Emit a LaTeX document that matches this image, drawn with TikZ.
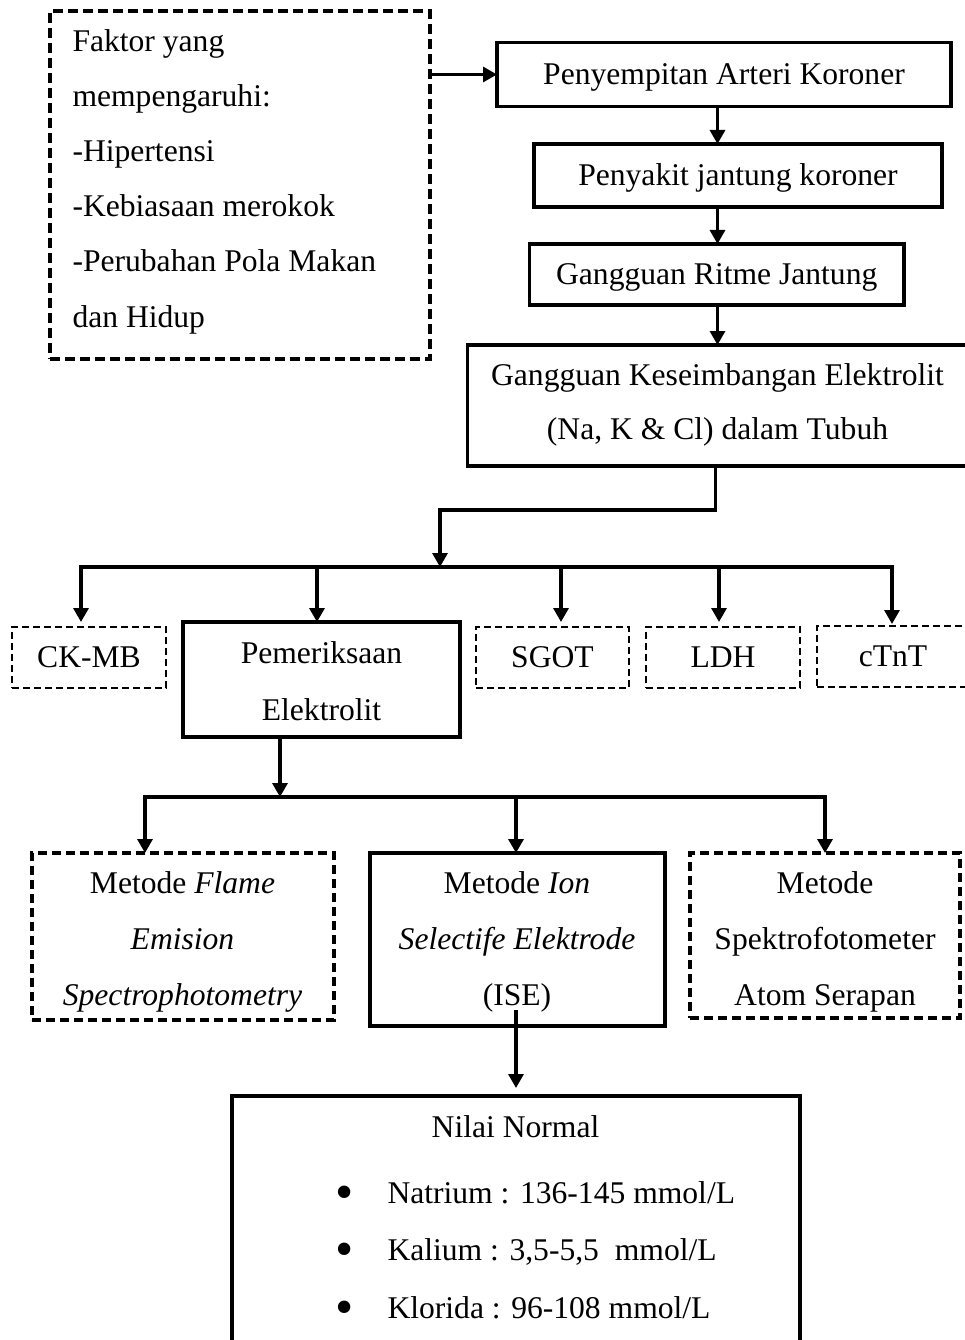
\documentclass[tikz,border=0pt]{standalone}
\usepackage{fontspec}
\setmainfont{Liberation Serif}
\usetikzlibrary{arrows.meta}
\newcommand\fs{\fontsize{31.6pt}{38pt}\selectfont}
\newcommand\bulfs{\fontsize{52pt}{52pt}\selectfont}
\tikzset{
  box/.style={draw, rectangle, line width=3.2pt, inner sep=0pt, outer sep=0pt},
  dbox/.style={box, dash pattern=on 10pt off 5pt},
  tbox/.style={draw, rectangle, line width=2.2pt, dash pattern=on 7pt off 4pt, inner sep=0pt, outer sep=0pt},
  one/.style={font=\fs, text height=20.9pt, text depth=0pt},
  lbl/.style={inner sep=0pt, outer sep=0pt, font=\fs},
  bul/.style={inner sep=0pt, outer sep=0pt, font=\bulfs, anchor=base},
  arr/.style={line width=3.2pt, -{Triangle[width=15pt,length=14pt]}},
  ln/.style={line width=3.2pt, line cap=rect},
}
\begin{document}
\begin{tikzpicture}[x=1pt,y=-1pt]
\useasboundingbox (0,0) rectangle (965,1340);

% ---------- boxes ----------
\node[dbox, minimum width=380pt, minimum height=348pt] (faktor) at (240,185) {};
\node[lbl, anchor=base west] (f1) at (72.5,52)  {Faktor yang};
\node[lbl, anchor=base west] (f2) at (72.5,107) {mempengaruhi:};
\node[lbl, anchor=base west] (f3) at (72.5,162) {-Hipertensi};
\node[lbl, anchor=base west] (f4) at (72.5,217) {-Kebiasaan merokok};
\node[lbl, anchor=base west] (f5) at (72.5,272) {-Perubahan Pola Makan};
\node[lbl, anchor=base west] (f6) at (72.5,327) {dan Hidup};

\node[box, one, minimum width=454pt, minimum height=64pt] (pen) at (724,74.5) {Penyempitan Arteri Koroner};
\node[box, one, minimum width=408pt, minimum height=63pt] (pk) at (738,175.5) {Penyakit jantung koroner};
\node[box, one, minimum width=374.5pt, minimum height=61pt] (rit) at (716.75,274.5) {Gangguan Ritme Jantung};

\node[box, minimum width=501.5pt, minimum height=121pt] (kes) at (718.25,405.5) {};
\node[lbl, anchor=base] (k1) at (717.5,385) {Gangguan Keseimbangan Elektrolit};
\node[lbl, anchor=base] (k2) at (717.5,439) {(Na, K \& Cl) dalam Tubuh};

\node[tbox, one, minimum width=154pt, minimum height=61pt] (ckmb) at (89,657.5) {CK-MB};
\node[box, minimum width=277pt, minimum height=115pt] (pem) at (321.5,679.5) {};
\node[lbl, anchor=base] (pm1) at (321.5,663) {Pemeriksaan};
\node[lbl, anchor=base] (pm2) at (321.5,720) {Elektrolit};
\node[tbox, one, minimum width=153pt, minimum height=61pt] (sgot) at (552.5,657.5) {SGOT};
\node[tbox, one, minimum width=154pt, minimum height=61pt] (ldh) at (723,657.5) {LDH};
\node[tbox, one, minimum width=152pt, minimum height=61pt] (ctnt) at (893,656.5) {cTnT};

\node[dbox, dash pattern=on 9pt off 5pt, minimum width=302pt, minimum height=167pt] (flame) at (183,936.5) {};
\node[lbl, anchor=base] (fl1) at (182.5,893)  {Metode \textit{Flame}};
\node[lbl, anchor=base] (fl2) at (182.5,949)  {\textit{Emision}};
\node[lbl, anchor=base] (fl3) at (182.5,1005) {\textit{Spectrophotometry}};

\node[box, minimum width=295pt, minimum height=173pt] (ise) at (517.5,939.5) {};
\node[lbl, anchor=base] (is1) at (517,893)  {Metode \textit{Ion}};
\node[lbl, anchor=base] (is2) at (517,949)  {\textit{Selectife Elektrode}};
\node[lbl, anchor=base] (is3) at (517,1005) {(ISE)};

\node[dbox, dash pattern=on 9pt off 5pt, minimum width=270pt, minimum height=165pt] (spek) at (825,935.5) {};
\node[lbl, anchor=base] (sp1) at (825,893)  {Metode};
\node[lbl, anchor=base] (sp2) at (825,949)  {Spektrofotometer};
\node[lbl, anchor=base] (sp3) at (825,1005) {Atom Serapan};

\node[box, minimum width=568pt, minimum height=254pt] (nilai) at (516,1223) {};
\node[lbl, anchor=base] (n0) at (515.5,1137) {Nilai Normal};
\node[bul] (nb1) at (345,1209.5) {•};
\node[bul] (nb2) at (345,1266.5) {•};
\node[bul] (nb3) at (345,1324.5) {•};
\node[lbl, anchor=base west] (n1) at (387.5,1203) {Natrium : 136-145 mmol/L};
\node[lbl, anchor=base west] (n2) at (387.5,1260) {Kalium : 3,5-5,5\ \ mmol/L};
\node[lbl, anchor=base west] (n3) at (387.5,1318) {Klorida : 96-108 mmol/L};

% ---------- connectors ----------
\coordinate (c0) at (717.5,0);
\coordinate (c1) at (715.5,0);
\draw[arr] (faktor.east |- pen.west) -- (pen.west);
\draw[arr] (pen.south -| c0) -- (pk.north -| c0);
\draw[arr] (pk.south -| c0) -- (rit.north -| c0);
\draw[arr] (rit.south -| c0) -- (kes.north -| c0);

\coordinate (j1) at (440,510);
\coordinate (b1L) at (81,567);
\coordinate (b1R) at (892,567);
\coordinate (a2) at (317,567);
\coordinate (a3) at (561,567);
\coordinate (a4) at (719,567);
\draw[arr] (kes.south -| c1) |- (j1) -- (j1 |- b1L);
\draw[ln] (b1L) -- (b1R);
\draw[arr, shorten >=5pt] (b1L) -- (ckmb.north -| b1L);
\draw[arr] (a2) -- (pem.north -| a2);
\draw[arr, shorten >=5pt] (a3) -- (sgot.north -| a3);
\draw[arr, shorten >=5pt] (a4) -- (ldh.north -| a4);
\draw[arr, shorten >=2pt] (b1R) -- (ctnt.north -| b1R);

\coordinate (p2) at (280,0);
\coordinate (b2L) at (145,797);
\coordinate (b2R) at (825,797);
\coordinate (a6) at (516,797);
\draw[arr] (pem.south -| p2) -- (p2 |- b2L);
\draw[ln] (b2L) -- (b2R);
\draw[arr] (b2L) -- (flame.north -| b2L);
\draw[arr] (a6) -- (ise.north -| a6);
\draw[arr] (b2R) -- (spek.north -| b2R);

\coordinate (isefoot) at (516,1010);
\draw[arr, shorten >=8pt] (isefoot) -- (nilai.north -| isefoot);
\end{tikzpicture}
\end{document}
